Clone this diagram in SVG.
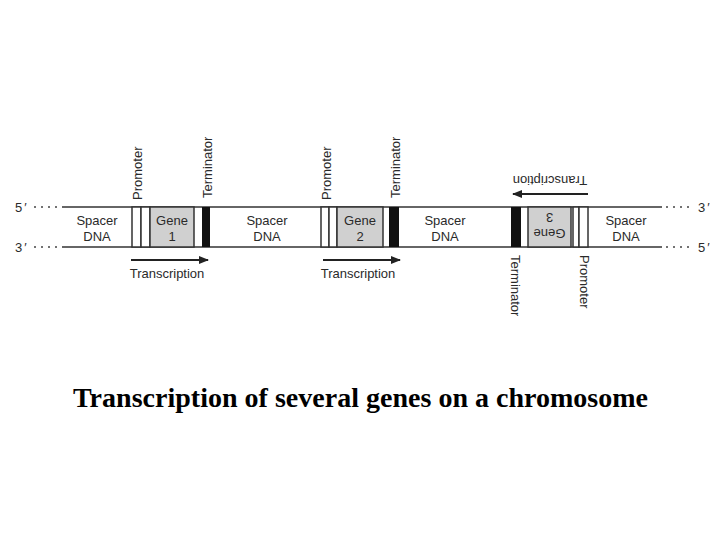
<svg xmlns="http://www.w3.org/2000/svg" width="720" height="540" viewBox="0 0 720 540">
<defs>
<marker id="ah" viewBox="0 0 10 10" refX="9" refY="5" markerWidth="10" markerHeight="10" markerUnits="userSpaceOnUse" orient="auto">
<path d="M0,1 L10,5 L0,9 Z" fill="#222"/>
</marker>
<style>
.lbl{font-family:"Liberation Sans",Arial,sans-serif;font-size:13px;fill:#2a2a2a}
.mid{text-anchor:middle}
.strand{stroke:#333;stroke-width:1.6;fill:none}
.dots{stroke:#444;stroke-width:1.6;stroke-dasharray:2 5;fill:none}
.prom{fill:#fff;stroke:#333;stroke-width:1.5}
.gene{fill:#d0d0d0;stroke:#333;stroke-width:1.5}
.term{fill:#111}
.arr{stroke:#222;stroke-width:2;fill:none;marker-end:url(#ah)}
.title{font-family:"Liberation Serif","Times New Roman",serif;font-size:28px;font-weight:bold;fill:#000}
</style>
</defs>
<rect width="720" height="540" fill="#fff"/>

<g id="strands">
<line class="strand" x1="62" y1="207" x2="662" y2="207"/>
<line class="strand" x1="62" y1="247" x2="662" y2="247"/>
<line class="dots" x1="34" y1="207" x2="61" y2="207"/>
<line class="dots" x1="34" y1="247" x2="61" y2="247"/>
<line class="dots" x1="666" y1="207" x2="694" y2="207"/>
<line class="dots" x1="666" y1="247" x2="694" y2="247"/>
<text class="lbl" x="15" y="212">5<tspan dx="2">′</tspan></text>
<text class="lbl" x="15" y="252">3<tspan dx="2">′</tspan></text>
<text class="lbl" x="698" y="212">3<tspan dx="2">′</tspan></text>
<text class="lbl" x="698" y="252">5<tspan dx="2">′</tspan></text>
</g>

<g id="spacer1"><text class="lbl mid" x="97" y="225">Spacer</text><text class="lbl mid" x="97" y="241">DNA</text></g>
<g id="promoter1">
<rect class="prom" x="132" y="207" width="9" height="40"/>
<rect class="prom" x="141" y="207" width="9" height="40"/>
<text class="lbl" transform="translate(141.5,200) rotate(-90)">Promoter</text>
</g>
<g id="gene1">
<rect class="gene" x="150" y="207" width="44" height="40"/>
<text class="lbl mid" x="172" y="225">Gene</text><text class="lbl mid" x="172" y="241">1</text>
</g>
<g id="terminator1">
<rect class="term" x="202" y="207" width="8" height="40"/>
<text class="lbl" transform="translate(212,198) rotate(-90)">Terminator</text>
</g>

<g id="spacer2"><text class="lbl mid" x="267" y="225">Spacer</text><text class="lbl mid" x="267" y="241">DNA</text></g>
<g id="promoter2">
<rect class="prom" x="321" y="207" width="8" height="40"/>
<rect class="prom" x="329" y="207" width="8" height="40"/>
<text class="lbl" transform="translate(331,200) rotate(-90)">Promoter</text>
</g>
<g id="gene2">
<rect class="gene" x="337" y="207" width="46" height="40"/>
<text class="lbl mid" x="360" y="225">Gene</text><text class="lbl mid" x="360" y="241">2</text>
</g>
<g id="terminator2">
<rect class="term" x="389" y="207" width="10" height="40"/>
<text class="lbl" transform="translate(399.5,198) rotate(-90)">Terminator</text>
</g>

<g id="spacer3"><text class="lbl mid" x="445" y="225">Spacer</text><text class="lbl mid" x="445" y="241">DNA</text></g>
<g id="terminator3">
<rect class="term" x="511" y="207" width="10" height="40"/>
<text class="lbl" transform="translate(511,255) rotate(90)">Terminator</text>
</g>
<g id="gene3">
<rect class="gene" x="528" y="207" width="43" height="40"/>
<g transform="rotate(180 549.5 227)">
<text class="lbl mid" x="549.5" y="225">Gene</text><text class="lbl mid" x="549.5" y="241">3</text>
</g>
</g>
<g id="promoter3">
<rect class="prom" x="573" y="207" width="6" height="40"/>
<rect class="prom" x="579" y="207" width="9" height="40"/>
<text class="lbl" transform="translate(579.5,255) rotate(90)">Promoter</text>
</g>
<g id="spacer4"><text class="lbl mid" x="626" y="225">Spacer</text><text class="lbl mid" x="626" y="241">DNA</text></g>

<g id="connectors">
<line class="arr" x1="131" y1="260" x2="208" y2="260"/>
<line class="arr" x1="323" y1="260" x2="400" y2="260"/>
<line class="arr" x1="588" y1="194" x2="513" y2="194"/>
</g>
<g id="transcription-labels">
<text class="lbl mid" x="167" y="278">Transcription</text>
<text class="lbl mid" x="358" y="278">Transcription</text>
<text class="lbl mid" x="550" y="184.5" transform="rotate(180 550 180)">Transcription</text>
</g>

<text class="title" x="73" y="407" textLength="575" lengthAdjust="spacing">Transcription of several genes on a chromosome</text>
</svg>
